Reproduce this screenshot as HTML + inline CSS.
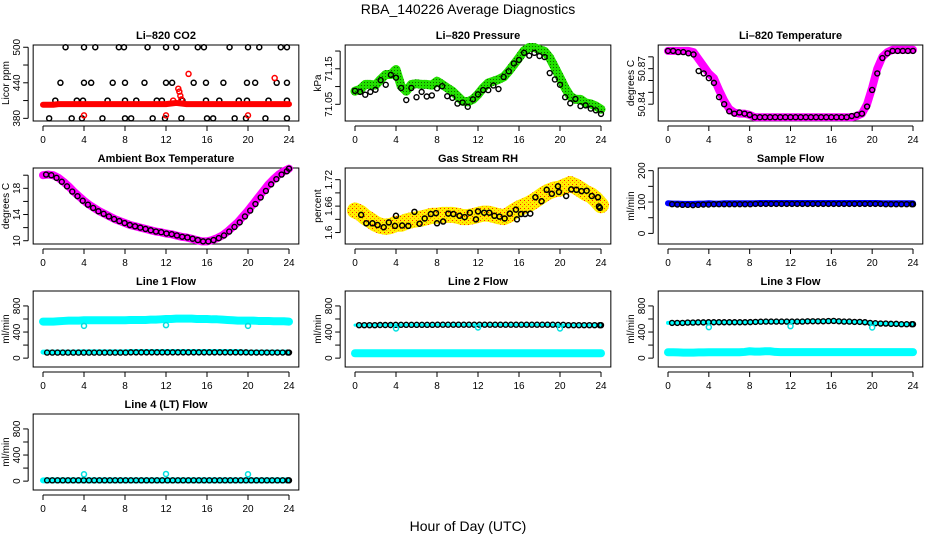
<!DOCTYPE html>
<html><head><meta charset="utf-8"><style>
html,body{margin:0;padding:0;background:#fff;}
svg{display:block;font-family:"Liberation Sans",Arial,sans-serif;}
</style></head><body>
<svg id="chart" width="936" height="540" viewBox="0 0 936 540" xmlns="http://www.w3.org/2000/svg">
<defs>
<pattern id="speckle" width="4" height="4" patternUnits="userSpaceOnUse">
<rect width="4" height="4" fill="#ffee00"/><rect x="0" y="0" width="1" height="1" fill="#ff2000"/><rect x="2" y="2" width="1" height="1" fill="#ff9000"/>
</pattern>
<pattern id="gdots" width="3" height="3" patternUnits="userSpaceOnUse">
<rect width="3" height="3" fill="#22e000"/><rect x="1" y="1" width="1" height="1" fill="#116600"/>
</pattern>
</defs>
<text x="468" y="14" text-anchor="middle" font-size="14">RBA_140226  Average Diagnostics</text>
<text x="468" y="531" text-anchor="middle" font-size="14">Hour of Day (UTC)</text>
</svg>
<script>
// ---- data ----
const xTicks = [0,4,8,12,16,20,24];

const co2BlackHours = [2.2,4,5.1,7.4,7.9,10.2,12,13,15.1,15.7,18.2,20,21.1,23.2,23.8, 1.7,4,4.7,6.8,8,9.9,12,12.6,14.7,15.9,17.6,19.9,20.7,22.8,23.8, 1.2,3.3,3.9,6.3,8,9.1,11.1,11.6,13.6,15.9,17.2,19.1,19.9,22,23.8, 0.6,2.8,3.8,5.8,8,8.6,10.7,11.9,13.5,16,16.6,18.7,19.8,21.7,23.8];
const co2BlackValues = [500,500,500,500,500,500,500,500,500,500,500,500,500,500,500, 440,440,440,440,440,440,440,440,440,440,440,440,440,440,440, 410,410,410,410,410,410,410,410,410,410,410,410,410,410,410, 380,380,380,380,380,380,380,380,380,380,380,380,380,380,380];
const co2Red = [403,403,403,404,404,404,404,404,404,404,404,404,404,404,404,404,404,404,404,404,404,404,404,404,404,405,406,405,404,404,404,404,404,404,404,404,404,404,404,404,404,404,404,404,404,404,404,404,404];
const co2RedOutHours = [4,12,20,12.7,13.2,13.3,13.4,13.5,14.2,22.6];
const co2RedOutValues = [385,385,385,410,430,425,418,412,455,448];

const presGreen = [71.087,71.092,71.106,71.106,71.104,71.120,71.134,71.134,71.148,71.101,71.087,71.106,71.108,71.106,71.106,71.104,71.115,71.106,71.096,71.087,71.073,71.059,71.057,71.064,71.078,71.096,71.110,71.115,71.120,71.127,71.143,71.162,71.181,71.201,71.210,71.210,71.204,71.199,71.181,71.153,71.125,71.096,71.073,71.064,71.064,71.054,71.051,71.045,71.036];
const presBlack = [71.088,71.085,71.077,71.085,71.091,71.118,71.105,71.133,71.125,71.096,71.062,71.096,71.070,71.085,71.072,71.075,71.095,71.101,71.073,71.068,71.052,71.055,71.043,71.064,71.078,71.090,71.090,71.103,71.093,71.127,71.143,71.165,71.175,71.195,71.187,71.195,71.186,71.183,71.138,71.120,71.105,71.070,71.053,71.065,71.045,71.047,71.038,71.033,71.023];

const tempMag = [50.885,50.885,50.885,50.885,50.885,50.884,50.878,50.872,50.866,50.862,50.852,50.843,50.836,50.833,50.832,50.832,50.831,50.829,50.829,50.829,50.829,50.829,50.829,50.829,50.829,50.829,50.829,50.829,50.829,50.829,50.829,50.829,50.829,50.829,50.829,50.829,50.829,50.830,50.832,50.840,50.854,50.870,50.880,50.884,50.886,50.886,50.886,50.886,50.886];
const tempBlack = [50.885,50.885,50.884,50.884,50.883,50.882,50.868,50.866,50.862,50.858,50.846,50.840,50.834,50.832,50.833,50.832,50.831,50.829,50.829,50.829,50.829,50.829,50.829,50.829,50.829,50.829,50.829,50.829,50.829,50.829,50.829,50.829,50.829,50.829,50.829,50.829,50.830,50.831,50.832,50.838,50.852,50.866,50.879,50.883,50.885,50.885,50.885,50.885,50.885];

const ambMag = [20,20.1,20,19.6,19,18.3,17.5,16.8,16.1,15.5,15,14.5,14.1,13.7,13.3,13,12.7,12.4,12.2,12,11.8,11.6,11.4,11.3,11.1,11,10.8,10.6,10.5,10.3,10.1,9.9,9.9,10.1,10.4,10.8,11.4,12.1,12.8,13.7,14.6,15.6,16.6,17.6,18.6,19.4,20.1,20.6,21];

const rhBand = [1.650,1.645,1.635,1.628,1.620,1.615,1.613,1.615,1.620,1.620,1.625,1.628,1.630,1.632,1.635,1.638,1.638,1.640,1.640,1.640,1.638,1.635,1.635,1.637,1.640,1.643,1.643,1.640,1.637,1.635,1.640,1.648,1.655,1.660,1.665,1.672,1.680,1.688,1.694,1.698,1.700,1.705,1.710,1.705,1.698,1.690,1.685,1.675,1.662];
const rhBlackHours = [0.6,1.1,1.7,2.2,2.8,3.3,3.9,4,4.6,5.2,5.8,6.3,6.8,7.4,7.9,8,8.6,9.1,9.6,10.2,10.7,11.2,11.8,12,12.6,13.1,13.6,14.1,14.6,15.1,15.7,15.8,16.2,16.6,17.1,17.6,18.2,18.7,19.2,19.8,19.9,20.6,21.1,21.6,22.1,22.6,23.1,23.7,23.8,23.9];
const rhBlackValues = [1.640,1.621,1.621,1.617,1.612,1.623,1.615,1.638,1.616,1.615,1.647,1.620,1.632,1.642,1.644,1.621,1.625,1.643,1.642,1.638,1.635,1.645,1.630,1.648,1.645,1.645,1.638,1.636,1.632,1.643,1.652,1.630,1.642,1.642,1.643,1.680,1.671,1.697,1.688,1.705,1.692,1.683,1.698,1.697,1.694,1.695,1.683,1.680,1.659,1.656];

const sampleBlue = [96,95,95,94,94,94,95,95,96,95,95,96,96,96,96,96,96,96,97,97,97,97,97,97,97,97,97,97,97,97,97,97,97,97,97,97,97,97,97,97,97,97,96,96,96,96,96,96,96];
const sampleBlack = [93,93,92,91,91,90,91,92,92,93,93,93,93,93,93,93,93,94,94,94,94,94,94,94,94,94,94,94,94,94,94,94,94,94,94,94,94,94,94,94,94,94,93,93,93,93,93,93,93];

const line1Cyan = [560,560,560,565,570,575,575,575,580,580,580,580,580,580,580,580,580,585,585,585,585,590,590,595,600,600,605,605,605,605,600,600,600,595,595,590,585,580,575,575,575,575,570,570,570,565,565,565,560];
const line1Black = [85,85,85,85,85,85,85,85,85,85,85,85,85,85,85,85,85,88,88,88,88,88,88,88,88,88,88,88,88,88,88,88,88,88,88,88,88,88,88,88,86,86,86,86,86,86,86,86,86];
const line1CyanLow = [92,92,92,92,92,92,92,95,95,95,95,95,95,95,95,95,95,100,100,100,100,100,100,100,100,100,100,100,100,100,100,100,100,100,100,100,100,100,100,95,92,92,92,92,92,92,92,92,92];

const line2Black = [505,505,505,505,505,508,508,508,510,510,510,510,510,510,510,510,512,512,512,512,512,512,512,512,512,512,512,512,512,512,512,512,512,512,512,512,512,512,512,510,510,505,505,505,505,505,505,505,505];
const line2Cyan = [75,75,75,75,75,75,75,75,75,75,75,75,75,75,75,75,75,75,75,75,75,75,75,75,75,75,75,75,75,75,75,75,75,75,75,75,75,75,75,75,75,75,75,75,75,75,75,75,75];

const line3Black = [540,540,540,540,545,545,548,548,550,550,550,550,550,550,550,550,552,555,558,560,560,560,560,560,560,560,560,565,565,565,565,568,570,565,560,560,555,555,550,540,535,530,530,525,525,520,520,520,520];
const line3Cyan = [90,90,88,85,85,85,88,88,90,90,90,90,90,90,90,95,105,100,100,105,105,95,92,92,92,92,92,92,92,92,92,92,92,92,92,92,92,92,92,92,92,92,92,92,92,92,92,92,92];

const line4Black = [12,12,12,12,12,12,12,12,12,12,12,12,12,12,12,12,12,12,12,12,12,12,12,12,12,12,12,12,12,12,12,12,12,12,12,12,12,12,12,12,12,12,12,12,12,12,12,12,12];
const dipHours = [4,12,20];
const line1Dips = [495,505,495];
const line2Dips = [455,470,455];
const line3Dips = [475,490,470];
const line4Dips = [105,110,105];

// ---- drawing ----
const NS = 'http://www.w3.org/2000/svg';
const svg = document.getElementById('chart');
function mk(tag, attrs, parent){ const e=document.createElementNS(NS,tag); for(const k in attrs) e.setAttribute(k,attrs[k]); (parent||svg).appendChild(e); return e; }
function hoursFor(arr){ return arr.map((_,i)=>i*24/(arr.length-1)); }

const colX = [{x0:43,x24:289},{x0:355,x24:601},{x0:668,x24:913}];
const rowTop = [45,168,291,414];
const BOXH = 76;

function panel(col,row,title,ylab,ylim,ticks,labels,name){
  const c=colX[col]; const pxh=(c.x24-c.x0)/24;
  const L=c.x0-0.96*pxh, R=c.x24+0.96*pxh, T=rowTop[row], B=T+BOXH;
  const g=mk('g',{});
  
  
  const xs=h=>c.x0+h*pxh;
  const ys=v=>B-(v-ylim[0])/(ylim[1]-ylim[0])*(B-T);
  const t=mk('text',{x:(L+R)/2,y:T-6,'text-anchor':'middle','font-size':11,'font-weight':'bold'},g); t.textContent=title;
  
  
  const box=mk('rect',{x:L,y:T,width:R-L,height:B-T,fill:'none',stroke:'#000','stroke-width':1},g);
  
  
  const xa=mk('g',{},g);
  
  
  mk('line',{x1:xs(0),x2:xs(24),y1:B+5,y2:B+5,stroke:'#000'},xa);
  xTicks.forEach(h=>{ mk('line',{x1:xs(h),x2:xs(h),y1:B+5,y2:B+10,stroke:'#000'},xa);
    const l=mk('text',{x:xs(h),y:B+22,'text-anchor':'middle','font-size':10},xa); l.textContent=h; });
  const ya=mk('g',{},g);
  
  
  mk('line',{x1:L-5,x2:L-5,y1:ys(ticks[0]),y2:ys(ticks[ticks.length-1]),stroke:'#000'},ya);
  ticks.forEach(v=>{ mk('line',{x1:L-10,x2:L-5,y1:ys(v),y2:ys(v),stroke:'#000'},ya); });
  labels.forEach(v=>{ const y=ys(v); const l=mk('text',{x:L-13,y:y,'text-anchor':'middle','font-size':10,transform:`rotate(-90 ${L-13} ${y})`},ya); l.textContent=String(v); });
  const yt=mk('text',{x:L-24,y:(T+B)/2,'text-anchor':'middle','font-size':10,transform:`rotate(-90 ${L-24} ${(T+B)/2})`},g); yt.textContent=ylab;
  
  
  const d=mk('g',{},g);
  
  
  return {xs,ys,g:d};
}
function band(p,vals,stroke,w,nm){
  const h=hoursFor(vals);
  const pl=mk('polyline',{points:vals.map((v,i)=>p.xs(h[i])+','+p.ys(v)).join(' '),fill:'none',stroke:stroke,'stroke-width':w,'stroke-linejoin':'round','stroke-linecap':'round'},p.g);
  
  
}
function pts(p,hs,vals,color,r,sw,nm){
  vals.forEach((v,i)=>{ const c=mk('circle',{cx:p.xs(hs[i]),cy:p.ys(v),r:r,fill:'none',stroke:color,'stroke-width':sw},p.g);
    
     });
}
function ptsEven(p,vals,color,r,sw,nm,off){
  const h=hoursFor(vals).map(x=>Math.min(24,x+(off||0)));
  pts(p,h,vals,color,r,sw,nm);
}

// Li-820 CO2
let p=panel(0,0,'Li\u2013820 CO2','Licor ppm',[375.5,503.8],[380,410,440,470,500],[380,440,500],'co2');
pts(p,co2BlackHours,co2BlackValues,'#000',2.5,1.5,'co2-black-point');
band(p,co2Red,'#ff0000',6,'co2-red-band');
pts(p,co2RedOutHours,co2RedOutValues,'#ff0000',2.5,1.5,'co2-red-point');

// Pressure
p=panel(1,0,'Li\u2013820 Pressure','kPa',[71.003,71.217],[71.05,71.10,71.15,71.20],[71.05,71.15],'pressure');
band(p,presGreen,'url(#gdots)',9,'pressure-green-band');
ptsEven(p,presBlack,'#000',2.5,1.4,'pressure-black-point');

// Temperature
p=panel(2,0,'Li\u2013820 Temperature','degrees C',[50.8258,50.89],[50.84,50.85,50.86,50.87,50.88],[50.84,50.87],'li820-temp');
band(p,tempMag,'#ff00ff',8,'temp-magenta-band');
ptsEven(p,tempBlack,'#000',2.5,1.4,'temp-black-point');

// Ambient
p=panel(0,1,'Ambient Box Temperature','degrees C',[9.5,21.1],[10,12,14,16,18,20],[10,14,18],'ambient');
band(p,ambMag,'#ff00ff',8,'ambient-magenta-band');
ptsEven(p,ambMag.slice(1),'#000',2.5,1.4,'ambient-black-point',0.3);

// RH
p=panel(1,1,'Gas Stream RH','percent',[1.574,1.7465],[1.60,1.63,1.66,1.69,1.72],[1.60,1.66,1.72],'rh');
band(p,rhBand,'url(#speckle)',16,'rh-orange-band');
pts(p,rhBlackHours,rhBlackValues,'#000',2.5,1.5,'rh-black-point');

// Sample Flow
p=panel(2,1,'Sample Flow','ml/min',[-33.8,208.5],[0,50,100,150,200],[0,100,200],'sample-flow');
band(p,sampleBlue,'#0000ff',6,'sample-blue-band');
ptsEven(p,sampleBlack.slice(1),'#000',2.5,1.4,'sample-black-point',0.4);

// Line 1
p=panel(0,2,'Line 1 Flow','ml/min',[-136,1029],[0,200,400,600,800],[0,400,800],'line1');
band(p,line1Cyan,'#00ffff',8,'line1-cyan-band');
band(p,line1CyanLow,'#00ffff',5,'line1-cyan-low-band');
ptsEven(p,line1Black.slice(1),'#000',2.5,1.4,'line1-black-point',0.4);
pts(p,dipHours,line1Dips,'#00e0e0',2.5,1.5,'line1-cyan-dip');

// Line 2
p=panel(1,2,'Line 2 Flow','ml/min',[-136,1029],[0,200,400,600,800],[0,400,800],'line2');
band(p,line2Cyan,'#00ffff',8,'line2-cyan-band');
band(p,line2Black,'#00ffff',3,'line2-cyan-upper');
ptsEven(p,line2Black.slice(1),'#000',2.5,1.4,'line2-black-point',0.4);
pts(p,dipHours,line2Dips,'#00e0e0',2.5,1.5,'line2-cyan-dip');

// Line 3
p=panel(2,2,'Line 3 Flow','ml/min',[-136,1029],[0,200,400,600,800],[0,400,800],'line3');
band(p,line3Cyan,'#00ffff',8,'line3-cyan-band');
band(p,line3Black,'#00ffff',4,'line3-cyan-upper');
ptsEven(p,line3Black.slice(1),'#000',2.5,1.4,'line3-black-point',0.4);
pts(p,dipHours,line3Dips,'#00e0e0',2.5,1.5,'line3-cyan-dip');

// Line 4
p=panel(0,3,'Line 4 (LT) Flow','ml/min',[-136,1029],[0,200,400,600,800],[0,400,800],'line4');
band(p,line4Black,'#00ffff',6,'line4-cyan-band');
ptsEven(p,line4Black.slice(1),'#000',2.5,1.4,'line4-black-point',0.4);
pts(p,dipHours,line4Dips,'#00e0e0',2.5,1.5,'line4-cyan-dip');
</script>
</body></html>
